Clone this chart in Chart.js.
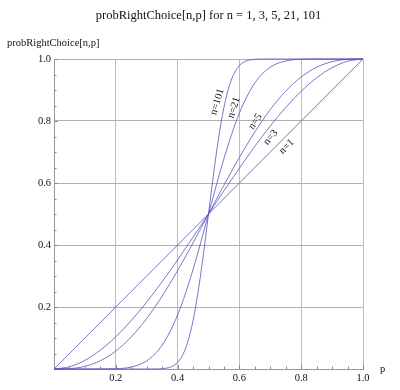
<!DOCTYPE html>
<html><head><meta charset="utf-8">
<script src="https://cdn.jsdelivr.net/npm/chart.js@4/dist/chart.umd.min.js"></script>
<style>html,body{margin:0;padding:0;background:#fff}#wrap{width:400px;height:390px}</style>
</head><body><div id="wrap"><canvas id="c" width="400" height="390"></canvas></div>
<script>
// ---- data ----
const chartTitle = 'probRightChoice[n,p] for n = 1, 3, 5, 21, 101';
const yTitle = 'probRightChoice[n,p]';
const xTitle = 'p';
const seriesNames = ['n=1', 'n=3', 'n=5', 'n=21', 'n=101'];
const xTickLabels = ['0.2', '0.4', '0.6', '0.8', '1.0'];
const yTickLabels = ['0.2', '0.4', '0.6', '0.8', '1.0'];

const p1 = [0, 1];
const v1 = [0, 1];
const pGrid = [0,0.05,0.1,0.15,0.2,0.25,0.3,0.35,0.4,0.45,0.5,0.55,0.6,0.65,0.7,0.75,0.8,0.85,0.9,0.95,1];
const v3  = [0,0.0073,0.028,0.0608,0.104,0.1563,0.216,0.2818,0.352,0.4253,0.5,0.5748,0.648,0.7183,0.784,0.8438,0.896,0.9393,0.972,0.9928,1];
const v5  = [0,0.0012,0.0086,0.0266,0.0579,0.1035,0.1631,0.2352,0.3174,0.4069,0.5,0.5931,0.6826,0.7648,0.8369,0.8965,0.9421,0.9734,0.9914,0.9988,1];
const v21 = [0,0,0.00001,0.00006,0.001,0.0064,0.0264,0.0772,0.1744,0.321,0.5,0.679,0.8256,0.9228,0.9736,0.9936,0.999,0.99994,0.99999,1,1];
const p101 = [0,0.3,0.33,0.35,0.37,0.39,0.41,0.43,0.45,0.47,0.49,0.5,0.51,0.53,0.55,0.57,0.59,0.61,0.63,0.65,0.67,0.7,1];
const v101 = [0,0.00003,0.0002,0.001,0.004,0.0127,0.034,0.0783,0.1563,0.2725,0.4201,0.5,0.5799,0.7275,0.8437,0.9217,0.966,0.9873,0.996,0.999,0.9998,0.99997,1];

// ---- label anchors (data coordinates) and styles ----
const curveLabelAnchors = {
  'n=101': {x: 0.5285, y: 0.862, angle: -73},
  'n=21':  {x: 0.5825, y: 0.843, angle: -72},
  'n=5':   {x: 0.6515, y: 0.798, angle: -56},
  'n=3':   {x: 0.7014, y: 0.747, angle: -49},
  'n=1':   {x: 0.753,  y: 0.717, angle: -45}
};
const SERIF = '"Liberation Serif", "Times New Roman", serif';
const LINE = 'rgba(85,85,190,0.8)';

const toPts = (xs, ys) => xs.map((x, i) => ({x, y: ys[i]}));
const seriesData = [toPts(p1, v1), toPts(pGrid, v3), toPts(pGrid, v5), toPts(pGrid, v21), toPts(p101, v101)];

const deco = {
  id: 'deco',
  afterDraw(chart) {
    const ctx = chart.ctx, xs = chart.scales.x, ys = chart.scales.y, a = chart.chartArea;
    ctx.save();
    // inner tick marks
    ctx.strokeStyle = '#8a8a8a'; ctx.lineWidth = 1;
    for (let i = 1; i <= 20; i++) {
      const v = i / 20, major = i % 4 === 0, len = major ? 4 : 2.5;
      const px = Math.round(xs.getPixelForValue(v)) + 0.5;
      ctx.beginPath(); ctx.moveTo(px, a.bottom); ctx.lineTo(px, a.bottom - len); ctx.stroke();
      const py = Math.round(ys.getPixelForValue(v)) + 0.5;
      ctx.beginPath(); ctx.moveTo(a.left, py); ctx.lineTo(a.left + len, py); ctx.stroke();
    }
    ctx.fillStyle = '#111';
    // title
    ctx.font = '12.5px ' + SERIF; ctx.textAlign = 'center'; ctx.textBaseline = 'middle';
    ctx.fillText(chartTitle, (a.left + a.right) / 2, 16);
    // y title
    ctx.font = '10.5px ' + SERIF; ctx.textAlign = 'left';
    ctx.fillText(yTitle, 7, 43);
    // x title
    ctx.fillText(xTitle, a.right + 17, a.bottom);
    // curve labels
    ctx.textAlign = 'center';
    seriesNames.forEach(n => {
      const an = curveLabelAnchors[n];
      ctx.save();
      ctx.translate(xs.getPixelForValue(an.x), ys.getPixelForValue(an.y));
      ctx.rotate(an.angle * Math.PI / 180);
      ctx.fillText(n, 0, 0);
      ctx.restore();
    });
    ctx.restore();
  }
};

const tickCb = labels => (v) => {
  const idx = Math.round(v / 0.2) - 1;
  return idx >= 0 && idx < labels.length ? labels[idx] : '';
};

new Chart(document.getElementById('c'), {
  type: 'line',
  data: {
    datasets: seriesData.map((d, i) => ({
      label: seriesNames[i], data: d, borderColor: LINE, borderWidth: 1,
      pointRadius: 0, fill: false, cubicInterpolationMode: 'monotone', clip: 3
    }))
  },
  options: {
    responsive: false, animation: false, devicePixelRatio: 1,
    layout: {padding: {left: 0, right: 37, top: 59, bottom: 0}},
    plugins: {legend: {display: false}, title: {display: false}, tooltip: {enabled: false}},
    scales: {
      x: {
        type: 'linear', min: 0, max: 1,
        ticks: {stepSize: 0.2, callback: tickCb(xTickLabels), font: {family: SERIF, size: 10.5}, color: '#111', padding: 3, maxRotation: 0, autoSkip: false},
        grid: {color: c => (c.tick && c.tick.value > 0.01) ? '#bdbdbd' : 'rgba(0,0,0,0)', drawTicks: false, lineWidth: 1},
        border: {display: true, color: '#999', width: 1},
        afterFit: s => { s.height = 21; }
      },
      y: {
        type: 'linear', min: 0, max: 1,
        ticks: {stepSize: 0.2, callback: tickCb(yTickLabels), font: {family: SERIF, size: 10.5}, color: '#111', padding: 3, autoSkip: false},
        grid: {color: c => (c.tick && c.tick.value > 0.01) ? '#b0b0b0' : 'rgba(0,0,0,0)', drawTicks: false, lineWidth: 1},
        border: {display: true, color: '#999', width: 1},
        afterFit: s => { s.width = 54; }
      }
    }
  },
  plugins: [deco]
});
</script></body></html>
